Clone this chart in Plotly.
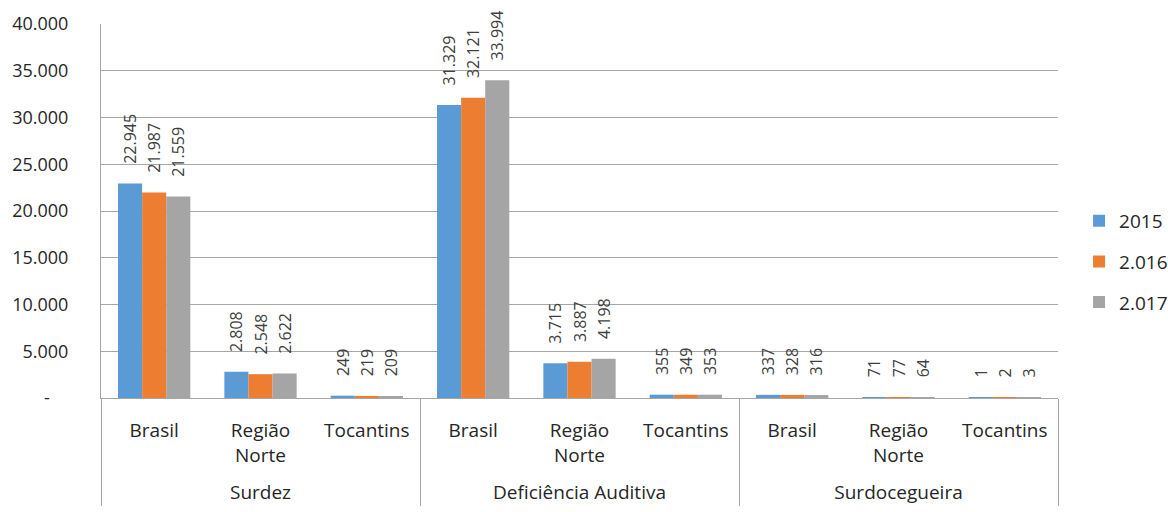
import plotly.graph_objects as go

groups = ["Surdez"] * 3 + ["Deficiência Auditiva"] * 3 + ["Surdocegueira"] * 3
regions = ["Brasil", "Região<br>Norte", "Tocantins"] * 3
series_names = ["2015", "2.016", "2.017"]
v2015 = [22945, 2808, 249, 31329, 3715, 355, 337, 71, 1]
v2016 = [21987, 2548, 219, 32121, 3887, 349, 328, 77, 2]
v2017 = [21559, 2622, 209, 33994, 4198, 353, 316, 64, 3]
colors = ["#5B9BD5", "#ED7D31", "#A5A5A5"]
ytickvals = [0, 5000, 10000, 15000, 20000, 25000, 30000, 35000, 40000]
yticktext = ["-", "5.000", "10.000", "15.000", "20.000", "25.000", "30.000", "35.000", "40.000"]

NB = "\u00a0"

def fmt(v):
    return NB * 4 + f"{v:,}".replace(",", ".")

# pad region labels with an empty line so the group labels sit lower (as in Excel)
region_labels = [r + "<br>" + NB if "<br>" in r else r + "<br>" + NB + "<br>" + NB for r in regions]
ytext = [t + NB * 4 if t == "-" else t for t in yticktext]

FONT = "Open Sans"
fig = go.Figure()
for i, (name, vals) in enumerate(zip(series_names, [v2015, v2016, v2017])):
    fig.add_trace(go.Bar(
        x=[groups, region_labels], y=vals, name=name,
        marker=dict(color=colors[i], line=dict(width=0)),
        text=[fmt(v) for v in vals], textposition="outside", textangle=-90,
        constraintext="none",
        textfont=dict(family=FONT, size=16, color="#404040"),
        cliponaxis=False, legendgroup=name,
    ))

fig.update_layout(
    width=1168, height=512,
    margin=dict(l=101, r=110, t=24, b=114, autoexpand=False),
    paper_bgcolor="white", plot_bgcolor="white",
    barmode="group", bargap=0.32, bargroupgap=0,
    font=dict(family=FONT, size=18, color="#262626"),
    legend=dict(x=1.022, y=0.364, xanchor="left", yanchor="middle",
                font=dict(size=19, color="#262626"), tracegroupgap=13,
                itemwidth=30, traceorder="grouped"),
)
fig.update_xaxes(
    type="multicategory", showline=True, linecolor="#A6A6A6", linewidth=1,
    showdividers=True, dividercolor="#A6A6A6", dividerwidth=1,
    tickfont=dict(size=19, color="#262626"), ticks="", ticklabelstandoff=15,
)
fig.update_yaxes(
    range=[0, 40000], tickvals=ytickvals, ticktext=ytext,
    showgrid=True, gridcolor="#A6A6A6", gridwidth=1,
    showline=True, linecolor="#A6A6A6", linewidth=1,
    zeroline=False, ticks="", ticklabelstandoff=28,
    tickfont=dict(size=18, color="#262626"),
)
fig.write_html("out.html")
